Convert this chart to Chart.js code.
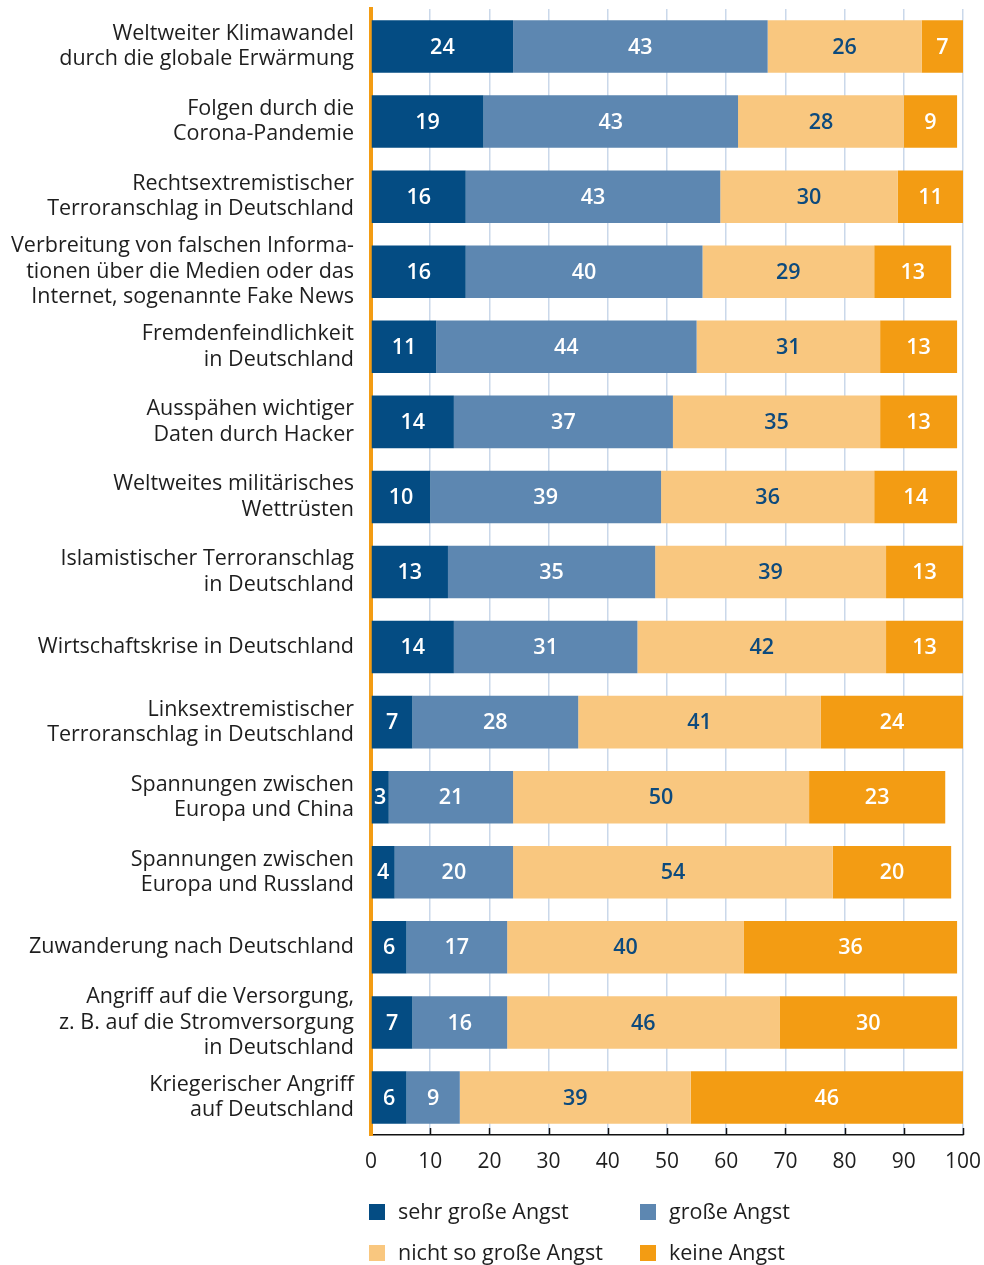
<!DOCTYPE html>
<html lang="de">
<head>
<meta charset="utf-8">
<title>Ängste der Bevölkerung</title>
<script src="https://cdn.jsdelivr.net/npm/chart.js@4/dist/chart.umd.min.js"></script>
<style>
  html, body { margin: 0; padding: 0; background: #ffffff; overflow: hidden; }
  #wrap { width: 984px; height: 1265px; position: relative; }
  canvas { display: block; }
</style>
</head>
<body>
<div id="wrap"><canvas id="chart" width="984" height="1265"></canvas></div>
<script>
// Threat categories (multi-line labels)
const categories = [
  ['Weltweiter Klimawandel', 'durch die globale Erwärmung'],
  ['Folgen durch die', 'Corona-Pandemie'],
  ['Rechtsextremistischer', 'Terroranschlag in Deutschland'],
  ['Verbreitung von falschen Informa-', 'tionen über die Medien oder das', 'Internet, sogenannte Fake News'],
  ['Fremdenfeindlichkeit', 'in Deutschland'],
  ['Ausspähen wichtiger', 'Daten durch Hacker'],
  ['Weltweites militärisches', 'Wettrüsten'],
  ['Islamistischer Terroranschlag', 'in Deutschland'],
  'Wirtschaftskrise in Deutschland',
  ['Linksextremistischer', 'Terroranschlag in Deutschland'],
  ['Spannungen zwischen', 'Europa und China'],
  ['Spannungen zwischen', 'Europa und Russland'],
  'Zuwanderung nach Deutschland',
  ['Angriff auf die Versorgung,', 'z. B. auf die Stromversorgung', 'in Deutschland'],
  ['Kriegerischer Angriff', 'auf Deutschland']
];

// Answer shares in percent
const sehrGrosseAngst   = [24, 19, 16, 16, 11, 14, 10, 13, 14,  7,  3,  4,  6,  7,  6];
const grosseAngst       = [43, 43, 43, 40, 44, 37, 39, 35, 31, 28, 21, 20, 17, 16,  9];
const nichtSoGrosseAngst= [26, 28, 30, 29, 31, 35, 36, 39, 42, 41, 50, 54, 40, 46, 39];
const keineAngst        = [ 7,  9, 11, 13, 13, 13, 14, 13, 13, 24, 23, 20, 36, 30, 46];

const seriesNames = ['sehr große Angst', 'große Angst', 'nicht so große Angst', 'keine Angst'];
const xTicks = [0, 10, 20, 30, 40, 50, 60, 70, 80, 90, 100];

const colors = ['#044c83', '#5d87b1', '#f9c77f', '#f39c13'];
const labelColors = ['#ffffff', '#ffffff', '#0d4a7d', '#ffffff'];
const FONT = "'Open Sans', 'Noto Sans', sans-serif";
const TEXT = '#1e1e1e';
const FS = 21.5;

const seriesValues = [sehrGrosseAngst, grosseAngst, nichtSoGrosseAngst, keineAngst];

// Value labels centred in each segment
const segmentLabels = {
  id: 'segmentLabels',
  afterDatasetsDraw(chart) {
    const ctx = chart.ctx;
    ctx.save();
    ctx.font = '600 ' + FS + 'px ' + FONT;
    ctx.textAlign = 'center';
    ctx.textBaseline = 'middle';
    chart.data.datasets.forEach((ds, di) => {
      const meta = chart.getDatasetMeta(di);
      ctx.fillStyle = labelColors[di];
      meta.data.forEach((bar, i) => {
        const v = ds.data[i];
        const cx = (bar.x + bar.base) / 2;
        ctx.fillText(String(v), cx, bar.y + 1);
      });
    });
    ctx.restore();
  }
};

// Short inward tick marks on the value axis, plus the legend
const axisAndLegend = {
  id: 'axisAndLegend',
  afterDraw(chart) {
    const ctx = chart.ctx;
    const x = chart.scales.x;
    const bottom = chart.chartArea.bottom;
    ctx.save();
    ctx.strokeStyle = '#111111';
    ctx.lineWidth = 1.5;
    x.ticks.forEach((t, i) => {
      if (i === 0) return;
      const px = Math.round(x.getPixelForValue(t.value)) + 0.5;
      ctx.beginPath();
      ctx.moveTo(px, bottom);
      ctx.lineTo(px, bottom - 7);
      ctx.stroke();
    });

    // legend: 2 x 2 grid
    const cols = [369, 640];
    const rows = [1212, 1253];
    ctx.font = FS + 'px ' + FONT;
    ctx.textAlign = 'left';
    ctx.textBaseline = 'middle';
    seriesNames.forEach((name, i) => {
      const cx = cols[i % 2];
      const cy = rows[Math.floor(i / 2)];
      ctx.fillStyle = colors[i];
      ctx.fillRect(cx, cy - 8, 16, 16);
      ctx.fillStyle = TEXT;
      ctx.fillText(name, cx + 29, cy + 1);
    });
    ctx.restore();
  }
};

new Chart(document.getElementById('chart'), {
  type: 'bar',
  data: {
    labels: categories,
    datasets: seriesValues.map((vals, i) => ({
      label: seriesNames[i],
      data: vals,
      backgroundColor: colors[i],
      borderWidth: 0,
      categoryPercentage: 0.7,
      barPercentage: 1.0
    }))
  },
  options: {
    indexAxis: 'y',
    responsive: false,
    animation: false,
    devicePixelRatio: 1,
    layout: { padding: { top: 9, right: 21, bottom: 92, left: 0 } },
    plugins: { legend: { display: false }, tooltip: { enabled: false } },
    scales: {
      x: {
        stacked: true,
        min: 0,
        max: 100,
        afterBuildTicks(scale) { scale.ticks = xTicks.map(v => ({ value: v })); },
        afterFit(scale) {
          scale.height = 38;
          scale.paddingLeft = 0;
          scale.paddingRight = 0;
        },
        grid: { color: '#cad8ea', lineWidth: 1.5, drawTicks: false },
        border: { color: '#111111', width: 1.5 },
        ticks: {
          font: { family: FONT, size: 21 },
          color: TEXT,
          padding: 14,
          maxRotation: 0,
          autoSkip: false
        }
      },
      y: {
        stacked: true,
        z: 1,
        afterFit(scale) {
          scale.width = 371;
          scale.paddingTop = 0;
          scale.paddingBottom = 0;
        },
        grid: { display: false, drawTicks: false },
        border: { color: '#f39c13', width: 4 },
        ticks: {
          font: { family: FONT, size: FS, lineHeight: 1.18 },
          color: TEXT,
          padding: 17,
          autoSkip: false
        }
      }
    }
  },
  plugins: [segmentLabels, axisAndLegend]
});
</script>
</body>
</html>
